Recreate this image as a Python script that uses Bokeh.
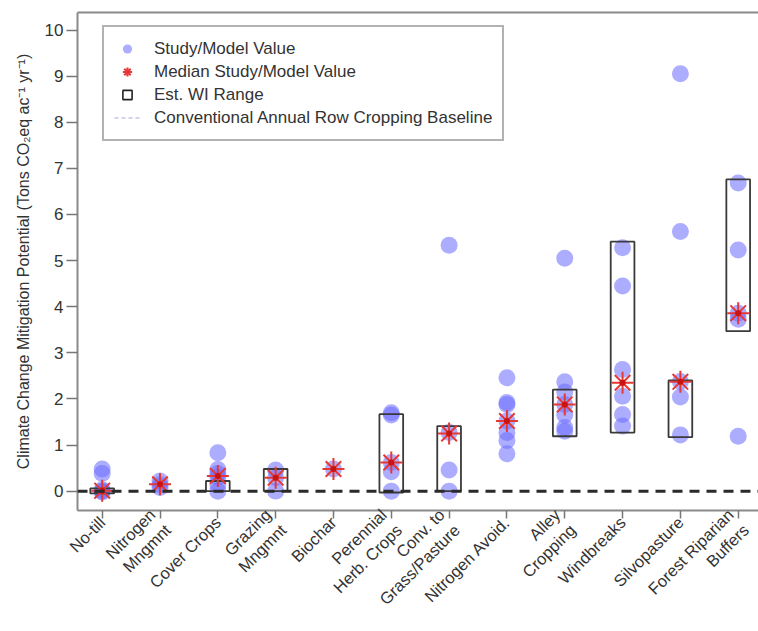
import math
from bokeh.plotting import figure
from bokeh.models import (Range1d, FixedTicker, LinearAxis, Legend, LegendItem,
                          Span, ColumnDataSource)
from bokeh.embed import file_html
from bokeh.resources import INLINE

# ---------------- data ----------------
categories = ["No-till", "Nitrogen\nMngmnt", "Cover Crops", "Grazing\nMngmnt", "Biochar",
              "Perennial\nHerb. Crops", "Conv. to\nGrass/Pasture", "Nitrogen Avoid.",
              "Alley\nCropping", "Windbreaks", "Silvopasture", "Forest Riparian\nBuffers"]

notill = [0.48, 0.38, 0.03, 0.0, -0.02]
nitrogen_mgmt = [0.22, 0.14, 0.08]
cover_crops = [0.83, 0.47, 0.38, 0.30, 0.15, 0.0]
grazing = [0.46, 0.29, 0.0]
biochar = [0.48]
perennial = [1.70, 1.65, 0.62, 0.42, 0.0]
conv_grass = [5.33, 1.27, 0.46, 0.0]
nitrogen_avoid = [2.46, 1.92, 1.88, 1.52, 1.27, 1.10, 0.81]
alley = [5.05, 2.37, 2.15, 1.88, 1.65, 1.38, 1.30]
windbreaks = [5.28, 4.45, 2.64, 2.06, 1.66, 1.41]
silvopasture = [9.05, 5.63, 2.38, 2.04, 1.22]
forest_riparian = [6.68, 5.23, 3.86, 3.73, 1.19]

medians = [0.01, 0.15, 0.33, 0.29, 0.48, 0.62, 1.25, 1.52, 1.88, 2.35, 2.37, 3.86]

box_cat = [1, 3, 4, 6, 7, 9, 10, 11, 12]
box_lo = [-0.05, 0.0, 0.0, -0.03, 0.0, 1.19, 1.27, 1.17, 3.47]
box_hi = [0.06, 0.22, 0.48, 1.67, 1.41, 2.20, 5.41, 2.40, 6.76]

y_ticks = list(range(0, 11))
baseline = 0.0

# ---------------- build sources ----------------
series = [notill, nitrogen_mgmt, cover_crops, grazing, biochar, perennial, conv_grass,
          nitrogen_avoid, alley, windbreaks, silvopasture, forest_riparian]
px, py = [], []
for i, vals in enumerate(series):
    for v in vals:
        px.append(i + 1)
        py.append(v)
pts = ColumnDataSource(dict(x=px, y=py))
cat_x = list(range(1, len(categories) + 1))
med = ColumnDataSource(dict(x=cat_x, y=medians))
boxes = ColumnDataSource(dict(x=box_cat, bottom=box_lo, top=box_hi))
nan_src = ColumnDataSource(dict(x=[float("nan")], y=[float("nan")]))

FONT = "Liberation Sans"
TXT = "#333333"

p = figure(width=758, height=631, x_range=Range1d(0.573, 12.351),
           y_range=Range1d(-0.42, 10.38), output_backend="svg", toolbar_location=None,
           min_border_left=77, min_border_right=0, min_border_top=12, min_border_bottom=121)
p.xgrid.visible = False
p.ygrid.visible = False
p.outline_line_color = None

# axes
for ax in (p.xaxis[0], p.yaxis[0]):
    ax.axis_line_color = "#8a8a8a"
    ax.axis_line_width = 2
    ax.major_tick_line_color = "#777777"
    ax.major_tick_line_width = 1.5
    ax.minor_tick_line_color = None
    ax.major_tick_in = 0
    ax.major_label_text_font = FONT
    ax.major_label_text_color = TXT

p.xaxis.ticker = FixedTicker(ticks=cat_x)
p.xaxis.major_label_overrides = {i + 1: c for i, c in enumerate(categories)}
p.xaxis.major_label_orientation = math.pi / 4
p.xaxis.major_label_text_font_size = "16.5px"
p.xaxis.major_label_standoff = 1
p.xaxis.major_tick_out = 8

p.yaxis.ticker = FixedTicker(ticks=y_ticks)
p.yaxis.major_tick_out = 11
p.yaxis.major_label_standoff = 3
p.yaxis.major_label_text_font_size = "17px"
p.yaxis.axis_label = "Climate Change Mitigation Potential (Tons CO\u2082eq ac\u207b\u00b9 yr\u207b\u00b9)"
p.yaxis.axis_label_text_font = FONT
p.yaxis.axis_label_text_font_style = "normal"
p.yaxis.axis_label_text_font_size = "16px"
p.yaxis.axis_label_text_color = TXT
p.yaxis.axis_label_standoff = 10

top_axis = LinearAxis(ticker=FixedTicker(ticks=[]), major_label_standoff=0,
                      major_tick_out=0, major_tick_in=0, minor_tick_out=0,
                      axis_line_color="#8a8a8a", axis_line_width=2)
p.add_layout(top_axis, "above")

# glyphs
r_pts = p.scatter("x", "y", source=pts, size=17, marker="circle",
                  fill_color="#6a6aff", fill_alpha=0.55, line_color=None)
r_box = p.vbar(x="x", bottom="bottom", top="top", width=0.41, source=boxes,
               fill_color=None, line_color="#3a3a3a", line_width=1.8)
r_ast = p.scatter("x", "y", source=med, marker="asterisk", size=22,
                  line_color="#e53935", line_width=2)
r_dot = p.scatter("x", "y", source=med, marker="circle", size=6,
                  fill_color="#c81414", line_color=None)

span = Span(location=baseline, dimension="width", line_color="#2a2a2a",
            line_width=3, line_dash="10 7")
p.add_layout(span)

# legend-only renderers (a single NaN point, nothing drawn in the plot)
r_leg_box = p.scatter("x", "y", source=nan_src, marker="square", size=10,
                      fill_color=None, line_color="#222222", line_width=1.6)
r_leg_line = p.line("x", "y", source=nan_src, line_color="#c4c4e4", line_width=1.5,
                    line_dash="4 3")

legend = Legend(items=[
    LegendItem(label="Study/Model Value", renderers=[r_pts]),
    LegendItem(label="Median Study/Model Value", renderers=[r_ast]),
    LegendItem(label="Est. WI Range", renderers=[r_leg_box]),
    LegendItem(label="Conventional Annual Row Cropping Baseline", renderers=[r_leg_line]),
], location=(25, 369))
legend.margin = 0
legend.padding = 10
legend.spacing = 0
legend.glyph_height = 23
legend.label_height = 23
legend.glyph_width = 26
legend.label_standoff = 14
legend.label_text_font = FONT
legend.label_text_font_size = "17px"
legend.label_text_color = TXT
legend.border_line_color = "#666666"
legend.border_line_width = 2
legend.background_fill_alpha = 1
p.add_layout(legend)

open("out.html", "w").write(file_html(p, INLINE))
